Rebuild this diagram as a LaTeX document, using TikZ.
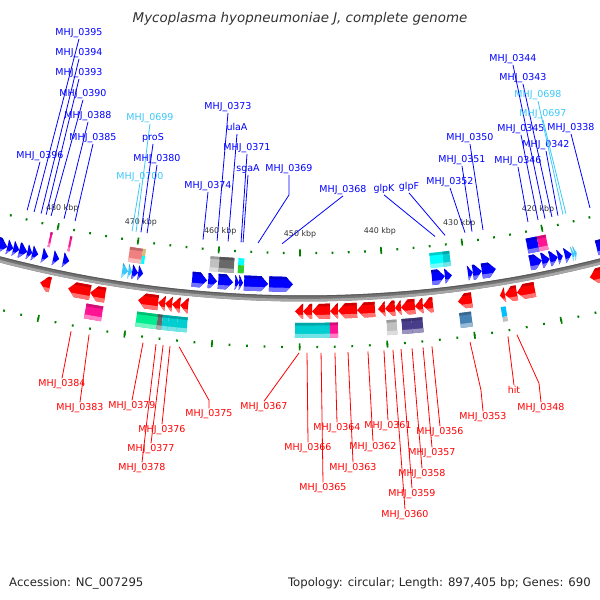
\documentclass[tikz,border=0pt]{standalone}
\usepackage{fontspec}
\setmainfont{DejaVu Sans}

\definecolor{revblue}{RGB}{0,0,255}
\definecolor{lightlab}{RGB}{60,200,250}
\definecolor{fwdred}{RGB}{255,0,0}
\definecolor{tickgreen}{RGB}{0,128,0}
\definecolor{cogpink}{RGB}{255,20,147}
\definecolor{cogsalmon}{RGB}{240,128,128}
\definecolor{cogkhaki}{RGB}{210,190,120}
\definecolor{cogcyan}{RGB}{0,255,255}
\definecolor{cogturq}{RGB}{0,206,209}
\definecolor{coggreen}{RGB}{50,205,50}
\definecolor{cogspring}{RGB}{0,238,144}
\definecolor{coglgray}{RGB}{192,192,192}
\definecolor{cogdgray}{RGB}{105,105,105}
\definecolor{cogslate}{RGB}{72,61,139}
\definecolor{cogsteel}{RGB}{70,130,180}
\definecolor{cogsky}{RGB}{0,191,255}

% kbp -> angle on the map (centre of the genome circle is above the page)
\newcommand\kb[1]{0.40116*(#1)-90.32}

% gene arrow: tail kbp, head kbp, inner radius, colour
\newcommand\geneArrow[4]{%
  \pgfmathsetmacro\gTail{\kb{#1}}%
  \pgfmathsetmacro\gHead{\kb{#2}}%
  \pgfmathsetmacro\gLen{min(0.34,abs(\gHead-\gTail))}%
  \pgfmathsetmacro\gBase{\gTail<\gHead ? \gHead-\gLen : \gHead+\gLen}%
  \pgfmathsetmacro\gLo{\gBase+0.53*(\gHead-\gBase)}%
  \pgfmathsetmacro\gHi{\gBase+0.35*(\gHead-\gBase)}%
  \pgfmathsetmacro\rA{#3}\pgfmathsetmacro\rB{#3+2.6}\pgfmathsetmacro\rM{#3+7.5}%
  \pgfmathsetmacro\rC{#3+11}\pgfmathsetmacro\rD{#3+15}%
  \fill[#4] (\gTail:\rA) -- (\gBase:\rA) -- (\gHead:\rM) -- (\gBase:\rD) -- (\gTail:\rD) -- cycle;
  \fill[#4!80!black] (\gTail:\rA) -- (\gBase:\rA) -- (\gHi:\rB) -- (\gTail:\rB) -- cycle;
  \fill[#4!55!white] (\gTail:\rC) -- (\gLo:\rC) -- (\gBase:\rD) -- (\gTail:\rD) -- cycle;
}
% COG box: from kbp, to kbp, inner radius, colour
\newcommand\cogBox[4]{%
  \pgfmathsetmacro\gTail{\kb{#1}}%
  \pgfmathsetmacro\gHead{\kb{#2}}%
  \pgfmathsetmacro\rA{#3}\pgfmathsetmacro\rB{#3+2.6}%
  \pgfmathsetmacro\rC{#3+11}\pgfmathsetmacro\rD{#3+15}%
  \fill[#4] (\gTail:\rA) -- (\gHead:\rA) -- (\gHead:\rD) -- (\gTail:\rD) -- cycle;
  \fill[#4!80!black] (\gTail:\rA) -- (\gHead:\rA) -- (\gHead:\rB) -- (\gTail:\rB) -- cycle;
  \fill[#4!55!white] (\gTail:\rC) -- (\gHead:\rC) -- (\gHead:\rD) -- (\gTail:\rD) -- cycle;
}
% part of a COG box: from, to, r1, r2, colour
\newcommand\cogPart[5]{%
  \fill[#5] ({\kb{#1}}:#3) -- ({\kb{#2}}:#3) -- ({\kb{#2}}:#4) -- ({\kb{#1}}:#4) -- cycle;
}

\tikzset{
  toplab/.style={font=\fontsize{9.5}{11}\selectfont, inner sep=1pt, text height=7pt, text depth=2.2pt, anchor=base},
  botlab/.style={toplab, text=fwdred},
  labline/.style={line width=0.8pt},
  tickdot/.style={tickgreen, line width=1.8pt},
  tickbig/.style={tickgreen, line width=1.6pt},
  ticklab/.style={font=\fontsize{7.9}{9}\selectfont, text=black!80, inner sep=0pt},
  foot/.style={font=\fontsize{11.7}{13}\selectfont, text=black!85, inner sep=0pt},
}

\begin{document}
\begin{tikzpicture}[x=1pt, y=-1pt]
  \useasboundingbox (0,0) rectangle (600,600);
  \fill[white] (0,0) rectangle (600,600);
  \clip (0,0) rectangle (600,600);

  \begin{scope}[shift={(304,-907)}]
    % backbone
    \draw[line width=6pt, black!55] plot[domain=70:110, samples=90] (\x:1205.5);
    \draw[line width=2.6pt, black!35] plot[domain=70:110, samples=90] (\x:1207.2);
    \draw[line width=1pt, black!65] plot[domain=70:110, samples=90] (\x:1203);

    % ticks
    \foreach \p in {412,414,...,490} {
      \draw[tickdot] ({\kb{\p}}:1159) -- ({\kb{\p}}:1161.2);
      \draw[tickdot] ({\kb{\p}}:1253) -- ({\kb{\p}}:1255.2);
    }
    \foreach \p in {420,430,...,480} {
      \draw[tickbig] ({\kb{\p}}:1156.5) -- ({\kb{\p}}:1163.5);
      \draw[tickbig] ({\kb{\p}}:1250.5) -- ({\kb{\p}}:1257.5);
      \node[ticklab] (t\p) at ({\kb{\p}}:1141) {\p\ kbp};
    }

    % genes on the inner strand
    \foreach \t/\h in {487.55/485.45, 485.45/484.71, 484.71/483.97, 483.97/482.98,
        482.98/482.37, 482.37/481.63, 481.14/480.40, 479.79/479.06, 478.57/477.83,
        470.18/469.45, 469.45/468.85, 462.94/461.13, 461.01/459.93, 459.80/458.01,
        457.77/457.29, 457.29/456.81, 456.69/453.81, 453.69/450.82, 434.14/432.57,
        432.57/431.72, 429.79/429.19, 429.19/428.10, 428.10/426.40, 422.26/420.80,
        420.80/419.82, 419.82/418.84, 418.84/418.23, 417.98/417.12, 414.05/412.00}
      \geneArrow{\t}{\h}{1184}{revblue};
    \foreach \t/\h in {471.39/470.66, 470.66/470.18, 417.12/416.85, 416.85/416.51}
      \geneArrow{\t}{\h}{1184}{lightlab};

    % genes on the outer strand
    \foreach \t/\h in {479.47/480.67, 474.70/477.32, 472.92/474.70, 466.65/469.01,
        465.82/466.65, 465.00/465.82, 464.05/465.00, 463.11/464.05, 449.62/450.55,
        448.56/449.62, 446.45/448.56, 445.52/446.45, 443.29/445.52, 441.18/443.29,
        440.00/440.83, 438.83/440.00, 438.12/438.83, 436.48/438.12, 435.54/436.48,
        434.36/435.54, 429.76/431.41, 425.84/426.44, 424.42/425.84, 422.28/424.42,
        413.27/415.68}
      \geneArrow{\t}{\h}{1211}{fwdred};

    % COG ring, inner side
    \cogBox{480.50}{480.75}{1167}{cogpink}
    \cogBox{478.05}{478.30}{1167}{cogpink}
    \cogBox{469.27}{470.87}{1167}{cogsalmon}
    \cogPart{468.90}{469.27}{1167}{1174}{cogkhaki}
    \cogPart{468.90}{469.27}{1174}{1182}{cogcyan}
    \cogBox{459.84}{460.95}{1167}{coglgray}
    \cogBox{458.02}{459.84}{1167}{cogdgray}
    \cogPart{456.80}{457.53}{1167}{1174}{cogcyan}
    \cogPart{456.80}{457.53}{1174}{1182}{coggreen}
    \cogBox{432.55}{434.14}{1167}{cogcyan}
    \cogBox{431.69}{432.55}{1167}{cogturq}
    \cogBox{420.84}{422.21}{1167}{revblue}
    \cogBox{419.73}{420.84}{1167}{cogpink}

    % COG ring, outer side
    \cogBox{472.91}{474.90}{1230}{cogpink}
    \cogBox{466.50}{468.94}{1230}{cogspring}
    \cogBox{465.92}{466.50}{1230}{cogdgray}
    \cogBox{465.22}{465.92}{1230}{cogturq}
    \cogBox{464.18}{465.22}{1230}{cogturq}
    \cogBox{463.02}{464.18}{1230}{cogturq}
    \cogBox{449.62}{450.54}{1230}{cogturq}
    \cogBox{448.58}{449.62}{1230}{cogturq}
    \cogBox{446.50}{448.58}{1230}{cogturq}
    \cogBox{445.58}{446.50}{1230}{cogpink}
    \cogBox{438.76}{439.92}{1230}{coglgray}
    \cogBox{437.02}{438.18}{1230}{cogslate}
    \cogBox{435.75}{437.02}{1230}{cogslate}
    \cogBox{430.06}{431.45}{1230}{cogsteel}
    \cogPart{425.98}{426.56}{1230}{1240}{cogsky}
    \cogPart{425.98}{426.56}{1240}{1245}{coglgray}

    % where the label lines meet the map
    \foreach \n/\p in {0396/484.20, 0395/483.31, 0394/482.42, 0393/481.78, 0390/481.15,
        0388/479.50, 0385/478.10, 0700/470.92, 0699/470.42, proS/469.80, 0380/469.04,
        0374/462.05, 0373/460.30, ulaA/458.93, 0371/457.32, sgaA/457.07, 0369/455.21,
        0368/452.23, glpK/433.21, glpF/431.96, 0352/429.46, 0351/428.58, 0350/427.20,
        0346/421.53, 0345/420.26, 0344/419.38, 0343/418.49, 0342/417.73, 0698/417.09,
        0697/416.71, 0338/413.64}
      \coordinate (f\n) at ({\kb{\p}}:1151);
    \foreach \n/\p in {0384/476.06, 0383/473.99, 0379/467.80, 0378/466.32, 0377/465.51,
        0376/464.72, 0375/463.69, 0367/450.07, 0366/449.16, 0365/447.57, 0364/445.99,
        0363/444.51, 0362/442.25, 0361/440.43, 0360/439.41, 0359/438.49, 0358/437.24,
        0357/435.99, 0356/434.97, 0353/430.63, hit/426.28, 0348/425.24}
      \coordinate (f\n) at ({\kb{\p}}:1260);
  \end{scope}

  % labels of the inner strand
  \foreach \n/\x/\y/\c/\t in {0396/40/155/revblue/MHJ\_0396, 0395/79/32/revblue/MHJ\_0395,
      0394/79/52/revblue/MHJ\_0394, 0393/79/72/revblue/MHJ\_0393, 0390/83/93/revblue/MHJ\_0390,
      0388/88/115/revblue/MHJ\_0388, 0385/93/137/revblue/MHJ\_0385,
      0700/140/176/lightlab/MHJ\_0700, 0699/150/117/lightlab/MHJ\_0699,
      proS/153/137/revblue/proS, 0380/157/158/revblue/MHJ\_0380,
      0374/208/185/revblue/MHJ\_0374, 0373/228/106/revblue/MHJ\_0373,
      ulaA/237/127/revblue/ulaA, 0371/247/147/revblue/MHJ\_0371, sgaA/248/168/revblue/sgaA,
      0368/343/189/revblue/MHJ\_0368, glpK/384/188/revblue/glpK, glpF/409/186/revblue/glpF,
      0352/450/181/revblue/MHJ\_0352, 0351/462/159/revblue/MHJ\_0351,
      0350/470/137/revblue/MHJ\_0350, 0346/518/160/revblue/MHJ\_0346,
      0345/521/128/revblue/MHJ\_0345, 0344/513/58/revblue/MHJ\_0344,
      0343/523/77/revblue/MHJ\_0343, 0342/546/144/revblue/MHJ\_0342,
      0698/538/94/lightlab/MHJ\_0698, 0697/543/113/lightlab/MHJ\_0697,
      0338/571/127/revblue/MHJ\_0338} {
    \node[toplab, text=\c] (l\n) at (\x,\y+3.5) {\t};
    \draw[labline, color=\c] (f\n) -- (l\n.south);
  }
  \node[toplab, text=revblue] (l0369) at (289,171.5) {MHJ\_0369};
  \draw[labline, revblue] (f0369) -- ([yshift=-20pt]l0369.south) -- (l0369.south);

  % labels of the outer strand
  \foreach \n/\x/\y/\t in {0384/62/383/MHJ\_0384, 0383/80/407/MHJ\_0383,
      0379/132/405/MHJ\_0379, 0378/142/467/MHJ\_0378, 0377/151/448/MHJ\_0377,
      0376/162/429/MHJ\_0376, 0367/264/406/MHJ\_0367, 0366/308/447/MHJ\_0366,
      0365/323/487/MHJ\_0365, 0364/337/427/MHJ\_0364, 0363/353/467/MHJ\_0363,
      0362/373/446/MHJ\_0362, 0361/388/425/MHJ\_0361, 0360/405/514/MHJ\_0360,
      0359/412/493/MHJ\_0359, 0358/422/473/MHJ\_0358, 0357/432/452/MHJ\_0357,
      0356/440/431/MHJ\_0356, hit/514/390/hit} {
    \node[botlab] (l\n) at (\x,\y+3.5) {\t};
    \draw[labline, fwdred] (f\n) -- (l\n.north);
  }
  \node[botlab] (l0375) at (209,416.5) {MHJ\_0375};
  \draw[labline, fwdred] (f0375) -- ([yshift=8pt]l0375.north) -- (l0375.north);
  \node[botlab] (l0353) at (483,419.5) {MHJ\_0353};
  \draw[labline, fwdred] (f0353) -- ([xshift=-2pt, yshift=21pt]l0353.north) -- (l0353.north);
  \node[botlab] (l0348) at (541,410.5) {MHJ\_0348};
  \draw[labline, fwdred] (f0348) -- ([xshift=-2pt, yshift=19pt]l0348.north) -- (l0348.north);

  % title and footer
  \node[font=\fontsize{13.4}{16}\selectfont\itshape, text=black!80, inner sep=0pt, anchor=base]
    (title) at (300,22.7) {Mycoplasma hyopneumoniae J, complete genome};
  \node[foot, anchor=base west] (acc) at (9,586.3) {Accession: NC\_007295};
  \node[foot, anchor=base east] (topo) at (591,586.3) {Topology: circular; Length: 897,405 bp; Genes: 690};
\end{tikzpicture}
\end{document}
